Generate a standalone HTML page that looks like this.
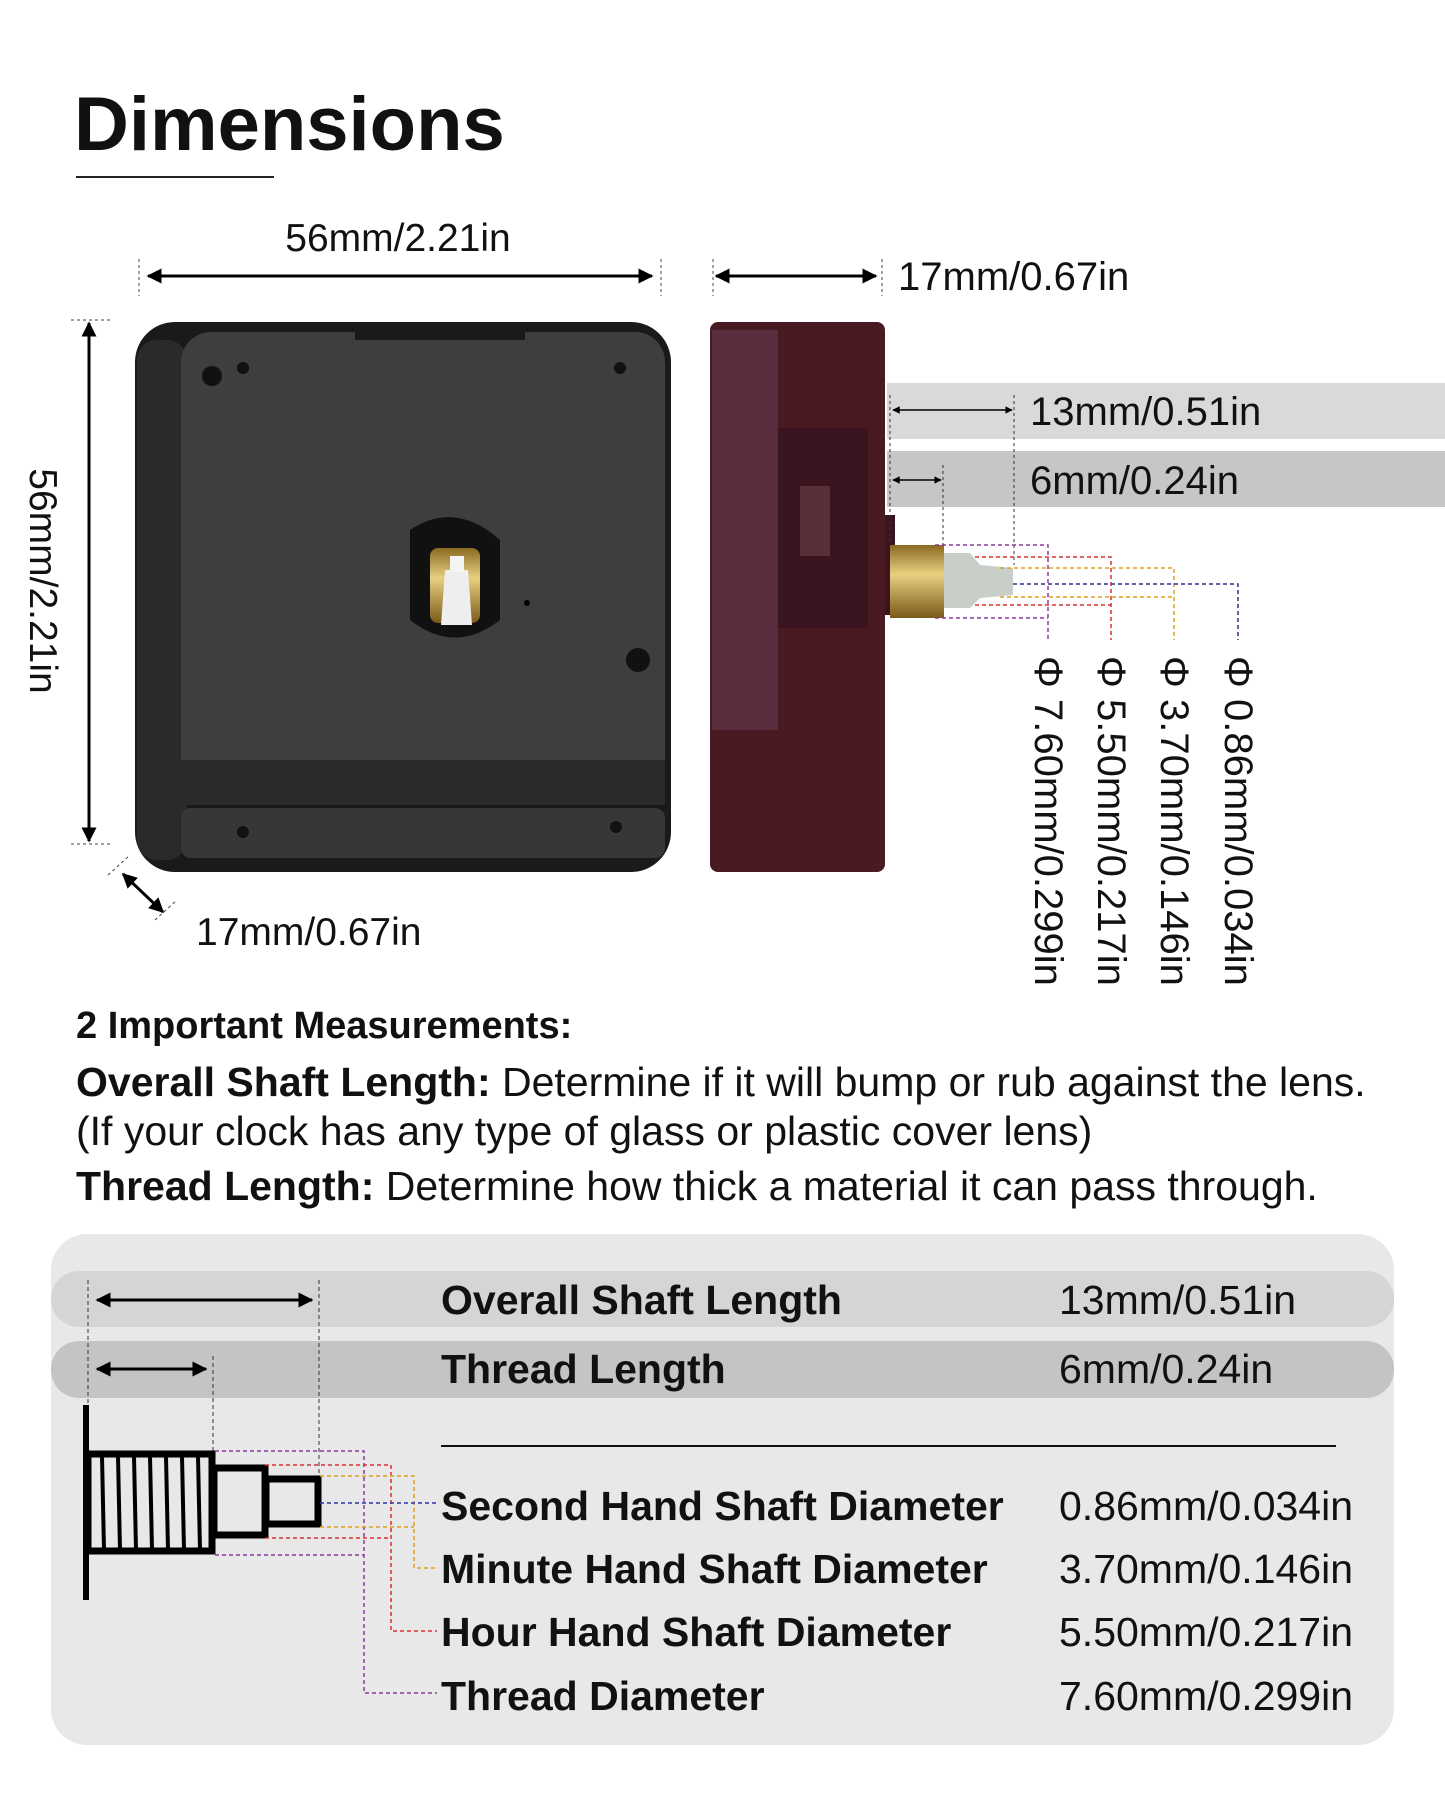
<!DOCTYPE html>
<html><head><meta charset="utf-8"><style>
html,body{margin:0;padding:0;background:#fff}
svg{display:block}
text{font-family:"Liberation Sans",sans-serif;fill:#111}
.b{font-weight:bold}
</style></head><body>
<svg width="1445" height="1806" viewBox="0 0 1445 1806" xmlns="http://www.w3.org/2000/svg">
<defs>
<marker id="ah" viewBox="0 0 10 10" refX="9" refY="5" markerWidth="5" markerHeight="5" orient="auto-start-reverse"><path d="M0,0L10,5L0,10z" fill="#000"/></marker>
<linearGradient id="brass" x1="0" y1="0" x2="0" y2="1"><stop offset="0" stop-color="#8a6a20"/><stop offset=".4" stop-color="#e8d080"/><stop offset="1" stop-color="#7a5a18"/></linearGradient>
</defs>

<text x="74" y="150" class="b" font-size="76">Dimensions</text>
<line x1="76" y1="177" x2="274" y2="177" stroke="#222" stroke-width="2"/>

<text x="398" y="251" font-size="39" text-anchor="middle">56mm/2.21in</text>
<line x1="139" y1="259" x2="139" y2="296" stroke="#444" stroke-dasharray="3,3"/>
<line x1="661" y1="259" x2="661" y2="296" stroke="#444" stroke-dasharray="3,3"/>
<line x1="148" y1="276" x2="652" y2="276" stroke="#000" stroke-width="3" marker-start="url(#ah)" marker-end="url(#ah)"/>
<line x1="713" y1="259" x2="713" y2="296" stroke="#444" stroke-dasharray="3,3"/>
<line x1="882" y1="259" x2="882" y2="296" stroke="#444" stroke-dasharray="3,3"/>
<line x1="716" y1="276" x2="876" y2="276" stroke="#000" stroke-width="3" marker-start="url(#ah)" marker-end="url(#ah)"/>
<text x="898" y="290" font-size="40">17mm/0.67in</text>

<line x1="71" y1="320" x2="112" y2="320" stroke="#444" stroke-dasharray="3,3"/>
<line x1="71" y1="844" x2="112" y2="844" stroke="#444" stroke-dasharray="3,3"/>
<line x1="89" y1="323" x2="89" y2="841" stroke="#000" stroke-width="3" marker-start="url(#ah)" marker-end="url(#ah)"/>
<text transform="translate(30,581) rotate(90)" font-size="39" text-anchor="middle">56mm/2.21in</text>

<rect x="135" y="322" width="536" height="550" rx="40" fill="#1a1a1a"/>
<rect x="137" y="340" width="50" height="520" rx="20" fill="#2a2a2a"/>
<rect x="181" y="332" width="484" height="470" rx="30" fill="#3e3e40"/>
<rect x="355" y="324" width="170" height="16" fill="#1a1a1a"/>
<rect x="181" y="760" width="484" height="45" fill="#2b2b2d"/>
<rect x="181" y="808" width="484" height="50" rx="10" fill="#37373a"/>
<circle cx="212" cy="376" r="10" fill="#111"/><circle cx="243" cy="368" r="6" fill="#111"/>
<circle cx="620" cy="368" r="6" fill="#111"/><circle cx="243" cy="832" r="6" fill="#111"/><circle cx="616" cy="827" r="6" fill="#111"/>
<circle cx="638" cy="660" r="12" fill="#111"/>
<path d="M410,530 Q455,500 500,540 L500,620 Q455,655 410,620 Z" fill="#111"/>
<rect x="430" y="548" width="50" height="75" rx="8" fill="url(#brass)"/>
<path d="M445,570 L468,570 L472,625 L441,625 Z" fill="#eee"/>
<rect x="450" y="556" width="14" height="16" fill="#f4f4f4"/>
<circle cx="527" cy="603" r="3" fill="#000"/>

<line x1="108" y1="875" x2="130" y2="855" stroke="#444" stroke-dasharray="3,3"/>
<line x1="155" y1="920" x2="177" y2="900" stroke="#444" stroke-dasharray="3,3"/>
<line x1="123" y1="874" x2="163" y2="912" stroke="#000" stroke-width="3" marker-start="url(#ah)" marker-end="url(#ah)"/>
<text x="196" y="945" font-size="39">17mm/0.67in</text>

<rect x="887" y="383" width="558" height="56" fill="#d9d9d9"/>
<rect x="887" y="451" width="558" height="56" fill="#c6c6c6"/>
<rect x="710" y="322" width="175" height="550" rx="8" fill="#4a1a22"/>
<rect x="712" y="330" width="66" height="400" fill="#5a2d3e"/>
<rect x="778" y="428" width="90" height="200" fill="#3a1520"/>
<rect x="800" y="486" width="30" height="70" fill="#5a3038"/>
<rect x="885" y="515" width="10" height="100" fill="#3a1520"/>
<rect x="890" y="545" width="54" height="73" fill="url(#brass)"/>
<path d="M944,553 L970,553 L980,565 L1013,568 L1013,595 L980,598 L970,608 L944,608Z" fill="#c8cec8"/>
<line x1="893" y1="410" x2="1012" y2="410" stroke="#000" stroke-width="1.5" marker-start="url(#ah)" marker-end="url(#ah)"/>
<line x1="893" y1="480" x2="941" y2="480" stroke="#000" stroke-width="1.5" marker-start="url(#ah)" marker-end="url(#ah)"/>
<line x1="890" y1="395" x2="890" y2="545" stroke="#333" stroke-dasharray="3,3"/>
<line x1="1014" y1="395" x2="1014" y2="565" stroke="#333" stroke-dasharray="3,3"/>
<line x1="943" y1="465" x2="943" y2="545" stroke="#333" stroke-dasharray="3,3"/>
<text x="1030" y="425" font-size="40">13mm/0.51in</text>
<text x="1030" y="494" font-size="40">6mm/0.24in</text>
<g fill="none" stroke-dasharray="4,3" stroke-width="1.5">
<path d="M935,545 H1048 V640 M935,618 H1048" stroke="#8a3aa0"/>
<path d="M975,557 H1111 V640 M975,605 H1111" stroke="#d83030"/>
<path d="M1000,568 H1174 V640 M1000,597 H1174" stroke="#e0a020"/>
<path d="M1013,584 H1238 V640" stroke="#303090"/>
</g>
<g font-size="40">
<text transform="translate(1035,656) rotate(90)">Φ 7.60mm/0.299in</text>
<text transform="translate(1098,656) rotate(90)">Φ 5.50mm/0.217in</text>
<text transform="translate(1161,656) rotate(90)">Φ 3.70mm/0.146in</text>
<text transform="translate(1225,656) rotate(90)">Φ 0.86mm/0.034in</text>
</g>

<text x="76" y="1038" font-size="38" class="b">2 Important Measurements:</text>
<text x="76" y="1096" font-size="41"><tspan class="b">Overall Shaft Length:</tspan> Determine if it will bump or rub against the lens.</text>
<text x="76" y="1145" font-size="41">(If your clock has any type of glass or plastic cover lens)</text>
<text x="76" y="1200" font-size="41"><tspan class="b">Thread Length:</tspan> Determine how thick a material it can pass through.</text>

<rect x="51" y="1234" width="1343" height="511" rx="36" fill="#e8e8e8"/>
<rect x="51" y="1271" width="1343" height="56" rx="28" fill="#d5d5d5"/>
<rect x="51" y="1341" width="1343" height="57" rx="28" fill="#c4c4c4"/>
<line x1="88" y1="1280" x2="88" y2="1415" stroke="#333" stroke-dasharray="4,3"/>
<line x1="319" y1="1280" x2="319" y2="1477" stroke="#333" stroke-dasharray="4,3"/>
<line x1="213" y1="1356" x2="213" y2="1451" stroke="#333" stroke-dasharray="4,3"/>
<line x1="97" y1="1300" x2="312" y2="1300" stroke="#000" stroke-width="3" marker-start="url(#ah)" marker-end="url(#ah)"/>
<line x1="97" y1="1369" x2="206" y2="1369" stroke="#000" stroke-width="3" marker-start="url(#ah)" marker-end="url(#ah)"/>
<g font-size="41">
<text x="441" y="1314" class="b">Overall Shaft Length</text><text x="1059" y="1314">13mm/0.51in</text>
<text x="441" y="1383" class="b">Thread Length</text><text x="1059" y="1383">6mm/0.24in</text>
<text x="441" y="1520" class="b">Second Hand Shaft Diameter</text><text x="1059" y="1520">0.86mm/0.034in</text>
<text x="441" y="1583" class="b">Minute Hand Shaft Diameter</text><text x="1059" y="1583">3.70mm/0.146in</text>
<text x="441" y="1646" class="b">Hour Hand Shaft Diameter</text><text x="1059" y="1646">5.50mm/0.217in</text>
<text x="441" y="1710" class="b">Thread Diameter</text><text x="1059" y="1710">7.60mm/0.299in</text>
</g>
<line x1="441" y1="1446" x2="1336" y2="1446" stroke="#111" stroke-width="2"/>
<line x1="86" y1="1405" x2="86" y2="1600" stroke="#000" stroke-width="6"/>
<rect x="88" y="1454" width="124" height="97" fill="none" stroke="#000" stroke-width="7"/>
<g stroke="#000" stroke-width="4"><line x1="102" y1="1456" x2="104" y2="1550"/><line x1="118" y1="1456" x2="120" y2="1550"/><line x1="134" y1="1456" x2="136" y2="1550"/><line x1="150" y1="1456" x2="152" y2="1550"/><line x1="166" y1="1456" x2="168" y2="1550"/><line x1="182" y1="1456" x2="184" y2="1550"/><line x1="198" y1="1456" x2="200" y2="1550"/></g>
<rect x="214" y="1468" width="51" height="67" fill="none" stroke="#000" stroke-width="7"/>
<rect x="266" y="1479" width="52" height="45" fill="none" stroke="#000" stroke-width="7"/>
<g fill="none" stroke-dasharray="4,3" stroke-width="1.5">
<path d="M215,1451 H364 V1693 H437 M215,1555 H364" stroke="#8a3aa0"/>
<path d="M265,1465 H391 V1631 H437 M265,1538 H391" stroke="#d83030"/>
<path d="M320,1476 H414 V1568 H437 M320,1527 H414" stroke="#e0a020"/>
<path d="M320,1503 H437" stroke="#3030b0"/>
</g>
</svg>
</body></html>
